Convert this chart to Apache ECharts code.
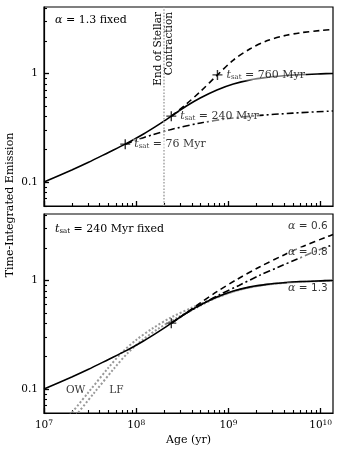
<!DOCTYPE html>
<html>
<head>
<meta charset="utf-8">
<script src="https://cdn.jsdelivr.net/npm/echarts@6/dist/echarts.min.js"></script>
<style>
  html, body { margin: 0; padding: 0; background: #fff; }
  #chart { width: 340px; height: 450px; }
</style>
</head>
<body>
<div id="chart"></div>
<script>
  // shared pre-saturation track
  const trackAge = [1e7, 2e7, 3e7, 5e7, 7.6e7, 1.2e8, 1.6e8, 2e8, 2.4e8, 3.5e8, 5e8, 7.6e8]
  const trackEmis = [0.1, 0.129, 0.151, 0.187, 0.223, 0.277, 0.322, 0.364, 0.404, 0.523, 0.686, 0.97]

  // saturated tails (alpha = 1.3), one per t_sat
  const sat76Age = [1.2e8, 1.5e8, 2.4e8, 5e8, 1e9, 2e9, 5e9, 1.36e10]
  const sat76Emis = [0.256, 0.272, 0.305, 0.350, 0.384, 0.408, 0.431, 0.451]
  const sat240Age = [3.5e8, 4.94e8, 7.5e8, 1.13e9, 1.72e9, 2.6e9, 3.95e9, 6e9, 1e10, 1.36e10]
  const sat240Emis = [0.501, 0.594, 0.705, 0.80, 0.873, 0.92, 0.952, 0.975, 0.992, 1.0]
  const sat760Age = [1.13e9, 1.72e9, 2.6e9, 3.95e9, 6e9, 1e10, 1.36e10]
  const sat760Emis = [1.33, 1.69, 2.0, 2.22, 2.37, 2.49, 2.54]

  // t_sat = 240 Myr, other alphas
  const a06Age = [3.5e8, 5e8, 7.5e8, 1.23e9, 2.2e9, 3.95e9, 6.5e9, 1.16e10, 1.36e10]
  const a06Emis = [0.503, 0.623, 0.789, 1.02, 1.34, 1.71, 2.07, 2.52, 2.65]
  const a08Age = [3.5e8, 5e8, 8e8, 1.3e9, 2.2e9, 3.5e9, 5.5e9, 8.5e9, 1.36e10]
  const a08Emis = [0.50, 0.595, 0.74, 0.90, 1.12, 1.33, 1.57, 1.84, 2.14]

  // OW and LF models (gray dotted)
  const owAge = [1.9e7, 3e7, 5e7, 7e7, 1e8, 1.5e8, 2.4e8, 4e8, 7e8, 1.3e9, 2.5e9, 5e9, 1.36e10]
  const owEmis = [0.057, 0.092, 0.157, 0.217, 0.283, 0.361, 0.457, 0.560, 0.685, 0.82, 0.912, 0.962, 1.0]
  const lfAge = [2.22e7, 3.5e7, 5.85e7, 8.2e7, 1.17e8, 1.75e8, 2.8e8, 4.5e8, 7e8, 1.3e9, 2.5e9, 5e9, 1.36e10]
  const lfEmis = [0.057, 0.092, 0.157, 0.217, 0.283, 0.361, 0.455, 0.560, 0.678, 0.818, 0.912, 0.962, 1.0]

  // t_sat markers
  const tsatAge = [7.6e7, 2.4e8, 7.6e8]
  const tsatEmis = [0.223, 0.404, 0.97]
  const tsatText = ['76', '240', '760']

  const contractionAge = 2e8

  // text anchors
  const alphaText = ['0.6', '0.8', '1.3']
  const alphaLabelAge = [1.22e10, 1.22e10, 1.22e10]
  const alphaLabelEmis = [3.18, 1.81, 0.85]
  const modelText = ['OW', 'LF']
  const modelLabelAge = [2.2e7, 6.1e7]
  const modelLabelEmis = [0.098, 0.098]

  // ticks
  const xMajor = [1e7, 1e8, 1e9, 1e10]
  const yMajor = [0.1, 1]
  const yMajorText = ['0.1', '1']
  const xMinor = []
  for (let d = 7; d <= 9; d++) for (let k = 2; k <= 9; k++) xMinor.push(k * Math.pow(10, d))
  const yMinor = [0.06, 0.07, 0.08, 0.09, 0.2, 0.3, 0.4, 0.5, 0.6, 0.7, 0.8, 0.9, 2, 3, 4]

  const X_MIN = 1e7, X_MAX = 1.36e10, Y_MIN = 0.06, Y_MAX = 4.1
  const SERIF = '"DejaVu Serif", "Liberation Serif", serif'
  const SANS = '"DejaVu Sans", sans-serif'

  // axes are linear in log10 of the values
  const L = Math.log10
  const pairs = (xs, ys) => xs.map((x, i) => [L(x), L(ys[i])])
  const tail = (n) => pairs(trackAge.slice(0, n), trackEmis.slice(0, n))

  const tsatRich = {
    i: { fontFamily: SERIF, fontStyle: 'italic', fontSize: 11, color: '#000' },
    sub: { fontFamily: SERIF, fontSize: 7, color: '#000', verticalAlign: 'bottom', padding: [4, 0, 0, 0] },
    n: { fontFamily: SERIF, fontSize: 11, color: '#000' }
  }

  const majorTick = { color: '#000', width: 1.3 }
  const minorTick = { color: '#000', width: 1.1 }

  function xAxes(gridIndex, showLabels) {
    return [{
      type: 'value', gridIndex, position: 'bottom', min: L(X_MIN), max: L(X_MAX),
      axisLine: { show: true, onZero: false, lineStyle: { color: '#000', width: 1.2 } },
      axisTick: { show: true, inside: true, length: 5, customValues: xMajor.map(L), lineStyle: majorTick },
      axisLabel: {
        show: showLabels, customValues: xMajor.map(L), margin: 6,
        formatter: v => '{b|10}{s|' + Math.round(v) + '}',
        rich: {
          b: { fontFamily: SERIF, fontSize: 10.5, color: '#000' },
          s: { fontFamily: SERIF, fontSize: 7.5, color: '#000', verticalAlign: 'top', padding: [0, 0, 5, 0] }
        }
      },
      splitLine: { show: false },
      name: showLabels ? 'Age (yr)' : '', nameLocation: 'middle', nameGap: 22,
      nameTextStyle: { fontFamily: SERIF, fontSize: 11, color: '#000' }
    }, {
      type: 'value', gridIndex, position: 'bottom', min: L(X_MIN), max: L(X_MAX),
      axisLine: { show: false, onZero: false },
      axisTick: { show: true, inside: true, length: 3, customValues: xMinor.map(L), lineStyle: minorTick },
      axisLabel: { show: false },
      splitLine: { show: false }
    }]
  }

  function yAxes(gridIndex) {
    return [{
      type: 'value', gridIndex, position: 'left', min: L(Y_MIN), max: L(Y_MAX),
      axisLine: { show: true, onZero: false, lineStyle: { color: '#000', width: 1.2 } },
      axisTick: { show: true, inside: true, length: 5, customValues: yMajor.map(L), lineStyle: majorTick },
      axisLabel: {
        show: true, customValues: yMajor.map(L), margin: 6,
        formatter: v => yMajorText[Math.round(v) + 1],
        fontFamily: SERIF, fontSize: 10.5, color: '#000'
      },
      splitLine: { show: false }
    }, {
      type: 'value', gridIndex, position: 'left', min: L(Y_MIN), max: L(Y_MAX),
      axisLine: { show: false, onZero: false },
      axisTick: { show: true, inside: true, length: 3, customValues: yMinor.map(L), lineStyle: minorTick },
      axisLabel: { show: false },
      splitLine: { show: false }
    }]
  }

  function line(name, data, xi, type, extra) {
    return Object.assign({
      name, type: 'line', data, xAxisIndex: xi, yAxisIndex: xi,
      showSymbol: false, symbol: 'none', smooth: 0.3,
      lineStyle: { color: '#000', width: 1.6, type }, silent: true
    }, extra || {})
  }

  const plusPath = 'path://M0,4.3H10V5.7H0ZM4.3,0H5.7V10H4.3Z'
  const grayDotted = { lineStyle: { color: '#999', width: 2, type: 'dotted' } }

  const chart = echarts.init(document.getElementById('chart'))

  const option = {
    animation: false,
    backgroundColor: '#fff',
    grid: [
      { left: 44, right: 7, top: 7, height: 199, show: true, borderColor: '#000', borderWidth: 1.2 },
      { left: 44, right: 7, top: 214, height: 199, show: true, borderColor: '#000', borderWidth: 1.2 }
    ],
    xAxis: [...xAxes(0, false), ...xAxes(1, true)],
    yAxis: [...yAxes(0), ...yAxes(1)],
    graphic: [
      {
        type: 'text', x: 10, y: 205, rotation: Math.PI / 2,
        style: { text: 'Time-Integrated Emission', fontFamily: SERIF, fontSize: 11, fill: '#000', align: 'center', verticalAlign: 'middle' }
      },
      {
        type: 'text', x: 55, y: 20,
        style: {
          text: '{a|α}{n| = 1.3 fixed}', verticalAlign: 'middle',
          rich: {
            a: { fontFamily: SERIF, fontStyle: 'italic', fontSize: 11, fill: '#000' },
            n: { fontFamily: SERIF, fontSize: 11, fill: '#000' }
          }
        }
      },
      {
        type: 'text', x: 55, y: 229,
        style: {
          text: '{i|t}{sub|sat}{n| = 240 Myr fixed}', verticalAlign: 'middle',
          rich: {
            i: { fontFamily: SERIF, fontStyle: 'italic', fontSize: 11, fill: '#000' },
            sub: { fontFamily: SERIF, fontSize: 7, fill: '#000', verticalAlign: 'bottom', padding: [4, 0, 0, 0] },
            n: { fontFamily: SERIF, fontSize: 11, fill: '#000' }
          }
        }
      }
    ],
    series: [
      // top panel
      line('tsat76', [...pairs([tsatAge[0]], [tsatEmis[0]]), ...pairs(sat76Age, sat76Emis)], 0, [7, 3, 2, 3]),
      line('tsat760', [...pairs(trackAge.slice(8), trackEmis.slice(8)), ...pairs(sat760Age, sat760Emis)], 0, [6, 4]),
      line('tsat240', [...tail(9), ...pairs(sat240Age, sat240Emis)], 0, 'solid', {
        markLine: {
          silent: true, symbol: 'none',
          lineStyle: { color: '#aaa', width: 1.6, type: 'dotted' },
          label: {
            show: true, position: 'insideEnd', distance: 5,
            formatter: 'End of Stellar\nContraction',
            fontFamily: SERIF, fontSize: 10.5, color: '#000', lineHeight: 11
          },
          data: [{ xAxis: L(contractionAge) }]
        }
      }),
      {
        name: 'tsat', type: 'scatter', xAxisIndex: 0, yAxisIndex: 0, silent: true,
        symbol: plusPath, symbolSize: 10, itemStyle: { color: '#000' }, z: 5,
        data: pairs(tsatAge, tsatEmis).map((p, i) => ({ value: p, txt: tsatText[i] })),
        label: {
          show: true, position: 'right', distance: 3,
          backgroundColor: 'rgba(255,255,255,0.6)', padding: [0, 1],
          formatter: p => '{i|t}{sub|sat}{n| = ' + p.data.txt + ' Myr}',
          rich: tsatRich
        }
      },
      // bottom panel
      line('OW', pairs(owAge, owEmis), 2, 'dotted', grayDotted),
      line('LF', pairs(lfAge, lfEmis), 2, 'dotted', grayDotted),
      line('a06', [...pairs([tsatAge[1]], [tsatEmis[1]]), ...pairs(a06Age, a06Emis)], 2, [6, 4]),
      line('a08', [...pairs([tsatAge[1]], [tsatEmis[1]]), ...pairs(a08Age, a08Emis)], 2, [7, 3, 2, 3]),
      line('a13', [...tail(9), ...pairs(sat240Age, sat240Emis)], 2, 'solid'),
      {
        name: 'tsat240', type: 'scatter', xAxisIndex: 2, yAxisIndex: 2, silent: true,
        symbol: plusPath, symbolSize: 10, itemStyle: { color: '#000' }, z: 5,
        data: pairs([tsatAge[1]], [tsatEmis[1]])
      },
      {
        name: 'alphaLabels', type: 'scatter', xAxisIndex: 2, yAxisIndex: 2, silent: true,
        symbolSize: 0, z: 6,
        data: pairs(alphaLabelAge, alphaLabelEmis).map((p, i) => ({ value: p, txt: alphaText[i] })),
        label: {
          show: true, position: 'left', distance: 0,
          backgroundColor: 'rgba(255,255,255,0.6)', padding: [0, 1],
          formatter: p => '{a|α}{n| = ' + p.data.txt + '}',
          rich: {
            a: { fontFamily: SERIF, fontStyle: 'italic', fontSize: 11, color: '#000' },
            n: { fontFamily: SANS, fontSize: 10.5, color: '#000' }
          }
        }
      },
      {
        name: 'modelLabels', type: 'scatter', xAxisIndex: 2, yAxisIndex: 2, silent: true,
        symbolSize: 0, z: 6,
        data: pairs(modelLabelAge, modelLabelEmis).map((p, i) => ({ value: p, txt: modelText[i] })),
        label: {
          show: true, position: 'inside',
          formatter: p => p.data.txt,
          fontFamily: SERIF, fontSize: 10.5, color: '#000'
        }
      }
    ]
  }

  chart.setOption(option)
</script>
</body>
</html>
